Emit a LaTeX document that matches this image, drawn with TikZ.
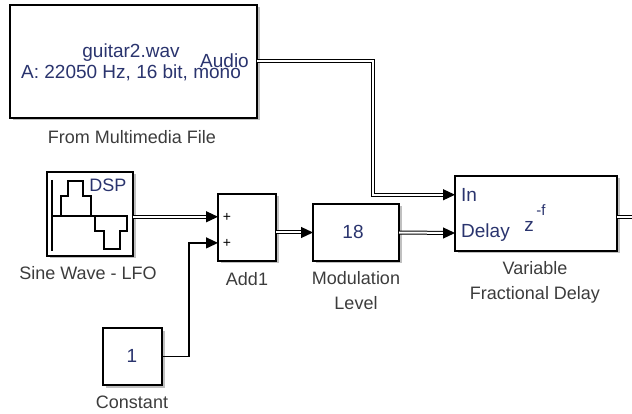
\documentclass[tikz,border=0pt]{standalone}
\usepackage{fontspec}
\setmainfont{Liberation Sans}
\usetikzlibrary{arrows.meta,shadows,calc}
\definecolor{btext}{RGB}{42,52,110}
\definecolor{ltext}{RGB}{60,60,60}
\begin{document}
\begin{tikzpicture}[x=1pt,y=-1pt,
  block/.style={draw=black, line width=1.4pt, fill=white, inner sep=0pt, outer sep=0pt,
    drop shadow={shadow xshift=2.5pt, shadow yshift=-2.5pt, fill=black!45, opacity=0.55}},
  lab/.style={text=ltext, font=\fontsize{18}{25}\selectfont, inner sep=0pt, align=center},
  btx/.style={text=btext, font=\fontsize{19}{21}\selectfont, inner sep=0pt},
  sig/.style={draw=black, line width=1pt, double=white, double distance=2pt},
  sigin/.style={sig, shorten >=11pt},
  single/.style={draw=black, line width=1.2pt},
  arr/.style={-{Triangle[length=12pt,width=11pt]}},
  tip/.style={draw=black, line width=1.2pt, -{Triangle[length=12pt,width=11pt]}},
  icon/.style={draw=black, line width=1.3pt},
]
\useasboundingbox (0,0) rectangle (632,414);

% blocks
\node[block, minimum width=247pt, minimum height=113pt, anchor=north west] (mmf) at (10,5) {};
\node[block, minimum width=86pt, minimum height=84pt, anchor=north west] (sine) at (47,172) {};
\node[block, minimum width=58pt, minimum height=67pt, anchor=north west] (add) at (218,194) {};
\node[block, minimum width=86pt, minimum height=57pt, anchor=north west] (gain) at (313,204) {};
\node[block, minimum width=162pt, minimum height=75pt, anchor=north west] (vfd) at (455,176) {};
\node[block, minimum width=59pt, minimum height=57pt, anchor=north west] (const) at (103,328) {};

% block contents
\node[btx] (t1) at (131,53) {guitar2.wav};
\node[btx] (t2) at (131,73) {A: 22050 Hz, 16 bit, mono};
\node[btx, anchor=east] (t3) at (249,61) {Audio};

\draw[icon] (52,180) -- (52,251);
\draw[icon] (52,216) -- (128,216);
\draw[icon] (61,216) -- (61,196) -- (68,196) -- (68,181) -- (83,181) -- (83,196) -- (91,196) -- (91,216);
\draw[icon] (95,216) -- (95,231) -- (104,231) -- (104,249) -- (120,249) -- (120,231) -- (127,231) -- (127,216);
\node[btx, font=\fontsize{18}{20}\selectfont, fill=white, inner sep=0.5pt] (dsp) at (108,185) {DSP};

\node[text=black, font=\fontsize{14}{14}\selectfont, inner sep=0pt] (p1) at (227,217) {+};
\node[text=black, font=\fontsize{14}{14}\selectfont, inner sep=0pt] (p2) at (227,243) {+};

\node[btx] (k) at (353,232) {18};

\node[btx, anchor=west] (tin) at (461,195) {In};
\node[btx, anchor=west] (tdel) at (461,233) {Delay};
\node[btx] (tz) at (529,226) {z};
\node[btx, font=\fontsize{15}{16}\selectfont] (tf) at (541,210) {-f};

\node[btx] (one) at (132,356) {1};

% labels
\node[lab] (lmmf) at (132,137) {From Multimedia File};
\node[lab] (lsine) at (88,273) {Sine Wave - LFO};
\node[lab] (ladd) at (247,279) {Add1};
\node[lab] (lgain) at (356,291) {Modulation\\Level};
\node[lab] (lvfd) at (535,282) {Variable\\Fractional Delay};
\node[lab] (lconst) at (132,402) {Constant};

% ports
\coordinate (vin) at ($(vfd.north west)!0.25!(vfd.south west)$);
\coordinate (vdel) at ($(vfd.north west)!0.76!(vfd.south west)$);
\coordinate (a1) at ($(add.north west)!0.34!(add.south west)$);
\coordinate (a2) at ($(add.north west)!0.73!(add.south west)$);
\coordinate (gin) at (gain.west);
\coordinate (vout) at (632,217);

% connectors
\draw[sigin] (mmf.east) -- ++(116,0) |- (vin);
\draw[sigin] (sine.east |- a1) -- (a1);
\draw[single, arr] (const.east) -- ++(27,0) |- (a2);
\draw[sigin] (add.east |- gin) -- (gin);
\draw[sigin] (gain.east) -- (vdel);
\draw[sig] (vfd.east |- vout) -- (vout);
% arrow tips of the double signal lines
\foreach \p in {vin,a1,gin,vdel} \draw[tip] ($(\p)+(-12,0)$) -- (\p);
\end{tikzpicture}
\end{document}
